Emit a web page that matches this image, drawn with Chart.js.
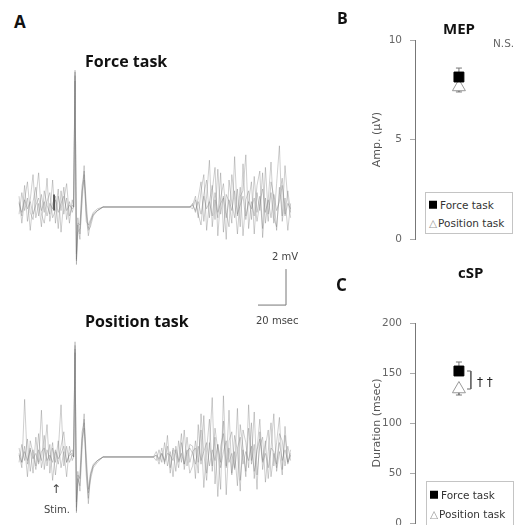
<!DOCTYPE html>
<html>
<head>
<meta charset="utf-8">
<script src="https://cdn.jsdelivr.net/npm/chart.js@4.4.1/dist/chart.umd.min.js"></script>
<style>
  html, body { margin: 0; padding: 0; background: #fff; }
  body { width: 519px; height: 525px; position: relative; overflow: hidden; font-family: 'DejaVu Sans', sans-serif; color: #444; }
  canvas { position: absolute; }
  .t { position: absolute; line-height: 1; white-space: nowrap; transform: translateY(-50%); }
  .h { font-family: 'Open Sans', sans-serif; font-weight: 700; color: #111; }
  .legend { position: absolute; border: 1px solid #c4c4c4; background: #fff; font-size: 10.5px; color: #333; }
  .legend div { position: absolute; left: 3px; white-space: nowrap; line-height: 1; transform: translateY(-50%); }
  .sq { display: inline-block; width: 8px; height: 8px; background: #000; margin-right: 3px; }
  .tri { color: #999; margin-right: 1px; }
</style>
</head>
<body>
<canvas id="forceTrace" width="300" height="280" style="left:0;top:40px"></canvas>
<canvas id="positionTrace" width="300" height="205" style="left:0;top:320px"></canvas>
<canvas id="mepChart" width="189" height="260" style="left:330px;top:0"></canvas>
<canvas id="cspChart" width="189" height="290" style="left:330px;top:262px"></canvas>

<div class="t h" style="left:14px;top:21px;font-size:17px">A</div>
<div class="t h" style="left:85px;top:61px;font-size:16px">Force task</div>
<div class="t h" style="left:85px;top:321px;font-size:16px">Position task</div>
<div class="t" style="left:272px;top:257px;font-size:10px">2 mV</div>
<div class="t" style="left:256px;top:321px;font-size:10px">20 msec</div>
<div class="t" style="left:51px;top:489px;font-size:12px">↑</div>
<div class="t" style="left:44px;top:510px;font-size:10px">Stim.</div>

<div class="t h" style="left:337px;top:18px;font-size:16px">B</div>
<div class="t h" style="left:443px;top:28px;font-size:15px">MEP</div>
<div class="t" style="left:493px;top:43px;font-size:10.5px;color:#666">N.S.</div>
<div class="legend" style="left:425px;top:192px;width:86px;height:40px">
  <div style="top:12px"><span class="sq"></span>Force task</div>
  <div style="top:30px"><span class="tri">△</span>Position task</div>
</div>

<div class="t h" style="left:336px;top:284px;font-size:17px">C</div>
<div class="t h" style="left:458px;top:272px;font-size:15px">cSP</div>
<div class="t" style="left:477px;top:382px;font-size:12px;color:#222">† †</div>
<div class="legend" style="left:426px;top:481px;width:86px;height:60px">
  <div style="top:13px"><span class="sq"></span>Force task</div>
  <div style="top:32px"><span class="tri">△</span>Position task</div>
</div>

<script>
// sample times (msec from stimulus) and single-sweep EMG values (mV)
const forceTimes = [
  -40, -38, -36, -34, -32, -30, -28, -26, -24, -22, -20, -18, -16, -14, -12, -10, -8, -6, -4, -2,
  -1, 0, 1, 2, 3.5, 5, 6.5, 8, 9.5, 11, 13, 16, 20,
  82,
  84, 86, 88, 90, 92, 94, 96, 98, 100, 102, 104, 106, 108, 110, 112, 114, 116, 118,
  120, 122, 124, 126, 128, 130, 132, 134, 136, 138, 140, 142, 144, 146, 148, 150, 152, 154,
]
const forceTrial1 = [
  0.3, -0.5, 1.2, -0.8, 0.4, 1.8, -0.6, 0.2, -1.1, 0.9, 0.1, -0.4, 1.5, -0.9, 0.6, -0.2, 1.1, -0.7, 0.3, -0.3,
  0, 7.6, -3.2, -1.0, -1.8, 0.6, 2.3, -0.4, -1.6, -0.9, -0.4, -0.2, 0,
  0,
  0.2, -0.3, 0.5, 1.4, -0.8, 0.6, 2.6, -1.1, 0.4, -0.6, 1.9, -1.4, 0.7, 0.3, -0.9, 2.8, -0.5, 1.1,
  -1.6, 0.4, 0.9, -0.7, 1.7, -0.3, 0.6, -1.2, 2.2, -0.4, 0.8, -0.9, 1.3, 3.4, -0.8, 0.5, -1.3, 0.2,
]
const forceTrial2 = [
  -0.4, 0.8, -0.2, 0.5, -1.3, 0.3, 1.1, -0.5, 0.7, -0.3, 1.6, -0.8, 0.2, 0.6, -1.2, 0.9, -0.4, 0.5, -0.9, 0.4,
  0, 7.3, -2.9, -1.4, -1.2, 1.2, 1.8, 0.3, -1.3, -1.1, -0.5, -0.2, 0,
  0,
  -0.1, 0.4, -0.6, 0.9, 1.8, -1.3, 0.3, 1.2, -0.7, 2.1, -0.4, 0.6, -1.8, 1.5, 0.2, -0.6, 1.0, -1.1,
  2.4, -0.5, 0.3, 1.4, -1.5, 0.8, -0.2, 1.9, -0.9, 0.4, 2.5, -0.6, -1.1, 0.7, 1.6, -0.4, 0.9, -0.3,
]
const forceTrial3 = [
  0.6, -0.9, 0.4, 1.4, -0.3, -0.7, 0.5, 1.9, -0.4, -0.9, 0.3, 0.8, -0.6, -0.2, 1.0, -1.4, 0.4, 1.3, -0.5, 0.1,
  0, 7.5, -3.0, -0.6, -1.5, 0.2, 2.0, -0.8, -1.0, -0.7, -0.3, -0.1, 0,
  0,
  0.1, 0.6, -0.4, -1.0, 0.7, 1.5, -0.6, 0.9, 2.2, -1.6, 0.5, 1.3, -0.3, -1.1, 1.8, 0.4, -1.5, 0.6,
  0.9, 2.9, -1.2, 0.3, -0.5, 1.2, 2.0, -1.7, 0.5, -0.8, 1.4, 0.6, -1.3, 1.1, -0.5, 2.3, 0.4, -0.6,
]
const forceTrial4 = [
  0.2, -0.3, 0.4, -0.1, 0.3, -0.4, 0.1, 0.5, -0.2, 0.3, -0.5, 0.2, -0.1, 0.4, -0.3, 0.2, 0.6, -0.2, 0.1, -0.1,
  0, 7.0, -2.6, -0.9, -1.0, 0.9, 1.5, -0.2, -1.2, -0.8, -0.4, -0.2, 0,
  0,
  0.1, -0.2, 0.3, -0.4, 0.6, -0.1, 0.3, -0.5, 0.8, -0.3, 0.2, 0.5, -0.6, 0.4, -0.2, 0.9, -0.4, 0.1,
  0.6, -0.7, 0.3, -0.1, 0.5, -0.8, 0.2, 1.0, -0.3, 0.4, -0.6, 0.7, -0.2, 0.3, 1.2, -0.5, 0.2, -0.1,
]

const positionTimes = [
  -40, -38, -36, -34, -32, -30, -28, -26, -24, -22, -20, -18, -16, -14, -12, -10, -8, -6, -4, -2,
  -1, 0, 1, 2, 3.5, 5, 6.5, 8, 9.5, 11, 13, 16, 20,
  56, 58, 60, 62, 64, 66, 68, 70, 72, 74, 76, 78, 80, 82,
  84, 86, 88, 90, 92, 94, 96, 98, 100, 102, 104, 106, 108, 110, 112, 114, 116, 118,
  120, 122, 124, 126, 128, 130, 132, 134, 136, 138, 140, 142, 144, 146, 148, 150, 152, 154,
]
const positionTrial1 = [
  0.2, -0.6, 3.2, -0.4, 0.5, -0.9, 1.1, -0.3, 2.6, -0.7, 0.4, -0.2, 0.8, -1.0, 0.3, 2.9, -0.5, 0.6, -0.3, 0.1,
  0, 6.4, -3.1, -1.2, -1.6, 0.8, 2.4, -0.6, -2.6, -1.1, -0.5, -0.2, 0,
  0, 0.3, -0.2, 0.5, -0.4, 1.2, -0.6, 0.4, -0.8, 0.9, -0.3, 1.5, -0.5, 0.7,
  0.6, -1.2, 1.8, -0.4, 2.3, -0.9, 0.5, 3.3, -1.5, 0.7, -0.3, 2.0, -2.1, 0.9, 1.4, -0.6, 2.7, -1.3,
  0.4, -0.8, 1.6, -0.2, 2.5, -1.0, 0.6, 1.1, -1.4, 0.3, 1.9, -0.5, 0.8, 2.2, -0.7, 1.2, -0.3, 0.4,
]
const positionTrial2 = [
  -0.3, 0.7, -0.2, 1.0, -0.8, 0.4, -0.5, 1.3, -0.6, 0.2, 1.8, -0.9, 0.5, -0.3, 0.9, -0.6, 0.3, -1.1, 0.6, -0.2,
  0, 6.0, -2.8, -1.5, -1.0, 1.4, 1.9, 0.2, -2.0, -1.3, -0.6, -0.3, 0,
  0, -0.2, 0.4, -0.3, 0.8, -0.5, 0.3, -1.1, 0.6, -0.2, 1.3, -0.7, 0.4, -0.9,
  -0.5, 0.9, -0.3, 1.5, -1.7, 0.4, 2.1, -0.8, 1.1, -2.2, 0.6, 1.3, -0.5, 2.6, -0.9, 0.3, -1.6, 1.8,
  0.5, -1.1, 2.9, -0.4, 0.7, -1.8, 1.4, -0.2, 0.9, -1.2, 0.5, 2.4, -0.8, 0.3, -1.0, 1.7, -0.4, 0.2,
]
const positionTrial3 = [
  0.5, -0.3, 0.6, -1.1, 0.9, 0.2, -0.7, 0.4, -0.2, 1.2, -0.5, 0.7, -1.3, 0.3, -0.4, 0.6, 1.4, -0.3, 0.2, 0.4,
  0, 6.2, -3.0, -0.8, -1.9, 0.4, 2.1, -1.0, -2.3, -0.9, -0.4, -0.2, 0,
  0, 0.1, -0.4, 0.2, -0.2, 0.6, -0.9, 0.5, 0.2, -0.6, 0.8, -0.4, 1.1, -0.3,
  0.3, 0.5, -0.9, 2.4, 0.2, -1.3, 0.8, -0.5, 1.6, 0.4, -1.8, 3.4, -0.6, 0.5, -1.0, 1.2, 0.3, -1.9,
  1.5, 0.8, -0.6, 1.9, -1.2, 0.4, 2.1, -0.7, 0.6, 1.5, -1.1, 0.2, -0.6, 1.3, 0.9, -0.5, 0.6, -0.2,
]
const positionTrial4 = [
  0.1, -0.3, 0.3, -0.2, 0.4, -0.1, 0.2, -0.4, 0.3, 0.5, -0.2, 0.1, -0.3, 0.4, -0.1, 0.2, 0.6, -0.3, 0.1, 0.2,
  0, 5.8, -2.5, -1.0, -1.2, 1.0, 1.6, -0.3, -1.8, -1.0, -0.5, -0.2, 0,
  0, 0.1, -0.1, 0.2, -0.3, 0.2, 0.1, -0.2, 0.4, -0.3, 0.2, -0.4, 0.3, 0.5,
  0.2, -0.4, 0.6, -0.2, 0.3, 0.8, -0.5, 0.4, -0.2, 0.7, -0.6, 0.3, 0.9, -0.3, 0.2, -0.7, 0.5, 1.1,
  -0.4, 0.3, -0.2, 0.6, -0.8, 0.4, 1.0, -0.3, 0.2, -0.6, 0.5, 0.3, -0.4, 0.8, -0.2, 0.4, -0.3, 0.1,
]

// trigger mark on the force sweep, and the 20 msec / 2 mV scale bar
const stimMarkMs = [-15, -15]
const stimMarkMv = [0.7, -0.2]
const scaleBarMs = [130.7, 150.7, 150.7]
const scaleBarMv = [-5.45, -5.45, -3.45]

// group means and SE
const taskLabels = ['Force task', 'Position task']
const mepMean = [8.14, 7.64]
const mepSe = [0.45, 0.25]
const cspMean = [152, 134]
const cspSe = [9, 6]
const mepTicks = [0, 5, 10]
const cspTicks = [0, 50, 100, 150, 200]

const FONT = "'DejaVu Sans', sans-serif"
const TRACE_COLOR = 'rgba(110,110,110,0.42)'

const toPoints = (xs, ys) => xs.map((x, i) => ({ x, y: ys[i] }))

function traceChart(canvasId, times, trials, yRange, extras = []) {
  const datasets = trials.map(values => ({
    data: toPoints(times, values),
    borderColor: TRACE_COLOR,
    borderWidth: 0.8,
    pointRadius: 0,
  }))
  return new Chart(document.getElementById(canvasId), {
    type: 'line',
    data: { datasets: extras.concat(datasets) },
    options: {
      responsive: false,
      animation: false,
      events: [],
      layout: { padding: 0 },
      plugins: { legend: { display: false }, tooltip: { enabled: false } },
      scales: {
        x: { type: 'linear', min: -53.6, max: 160.7, display: false },
        y: { min: yRange[0], max: yRange[1], display: false },
      },
    },
  })
}

traceChart('forceTrace', forceTimes, [forceTrial1, forceTrial2, forceTrial3, forceTrial4], [-6.28, 9.28], [
  { data: toPoints(stimMarkMs, stimMarkMv), borderColor: '#333', borderWidth: 1.5, pointRadius: 0 },
  { data: toPoints(scaleBarMs, scaleBarMv), borderColor: '#777', borderWidth: 1, pointRadius: 0 },
])
traceChart('positionTrace', positionTimes, [positionTrial1, positionTrial2, positionTrial3, positionTrial4], [-3.78, 7.61])

function summaryChart(canvasId, mean, se, ticks, axisTitle, padding, extras = []) {
  const taskX = 0.46
  const yMax = ticks[ticks.length - 1]
  const errorBar = (y0, y1) => ({
    type: 'line',
    data: [{ x: taskX, y: y0 }, { x: taskX, y: y1 }],
    borderColor: '#777',
    borderWidth: 1,
    pointStyle: 'line',
    pointRadius: [0, 3],
    pointBorderColor: '#777',
    pointBorderWidth: 1,
    order: 3,
  })
  return new Chart(document.getElementById(canvasId), {
    type: 'scatter',
    data: {
      datasets: [
        {
          label: taskLabels[0],
          data: [{ x: taskX, y: mean[0] }],
          pointStyle: 'rect',
          pointRadius: 7,
          backgroundColor: '#000',
          borderColor: '#000',
          order: 0,
        },
        {
          label: taskLabels[1],
          data: [{ x: taskX, y: mean[1] }],
          pointStyle: 'triangle',
          pointRadius: 7.5,
          backgroundColor: '#fff',
          borderColor: '#999',
          borderWidth: 1,
          order: 1,
        },
        errorBar(mean[0], mean[0] + se[0]),
        errorBar(mean[1], mean[1] - se[1]),
      ].concat(extras.map(d => d(taskX))),
    },
    options: {
      responsive: false,
      animation: false,
      events: [],
      layout: { padding },
      plugins: { legend: { display: false }, tooltip: { enabled: false } },
      scales: {
        x: { type: 'linear', min: 0, max: 1, display: false },
        y: {
          min: 0,
          max: yMax,
          afterBuildTicks: scale => { scale.ticks = ticks.map(value => ({ value })) },
          afterFit: scale => { scale.width = 48 },
          ticks: { padding: 8, color: '#666', font: { family: FONT, size: 10.5 } },
          grid: { drawOnChartArea: false, drawTicks: true, tickLength: 5, color: '#aaa' },
          border: { display: true, color: '#777', width: 1 },
          title: { display: true, text: axisTitle, color: '#555', font: { family: FONT, size: 11 }, padding: { top: 4, bottom: 4 } },
        },
      },
    },
  })
}

summaryChart('mepChart', mepMean, mepSe, mepTicks, 'Amp. (µV)', { left: 37, top: 40, right: 5, bottom: 21 })

// bracket joining the two cSP means
summaryChart('cspChart', cspMean, cspSe, cspTicks, 'Duration (msec)', { left: 37, top: 61, right: 5, bottom: 29 }, [
  () => ({
    type: 'line',
    data: [
      { x: 0.545, y: cspMean[0] }, { x: 0.585, y: cspMean[0] },
      { x: 0.585, y: cspMean[1] }, { x: 0.545, y: cspMean[1] },
    ],
    borderColor: '#666',
    borderWidth: 1,
    pointRadius: 0,
    order: 3,
  }),
])
</script>
</body>
</html>
